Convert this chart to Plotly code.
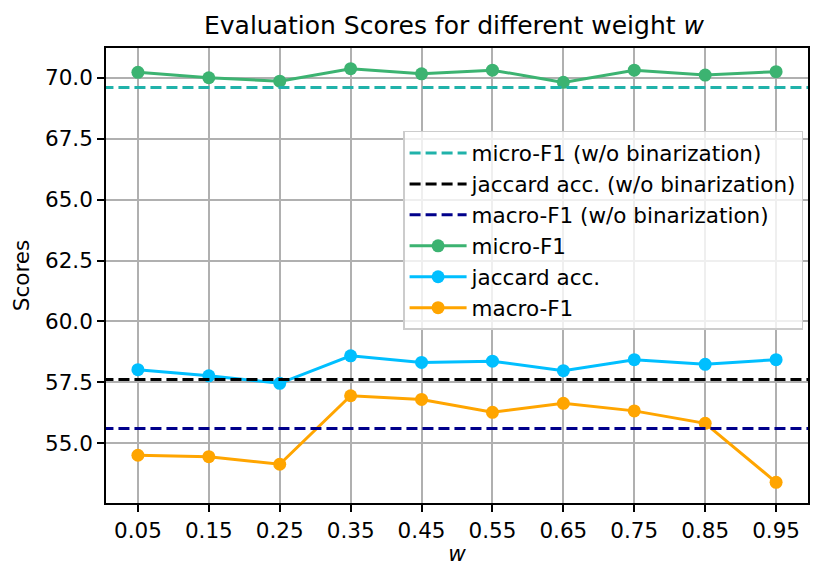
import plotly.graph_objects as go

w_labels = ["0.05", "0.15", "0.25", "0.35", "0.45", "0.55", "0.65", "0.75", "0.85", "0.95"]
micro_f1 = [70.22, 70.00, 69.86, 70.37, 70.16, 70.31, 69.81, 70.31, 70.11, 70.25]
jaccard_acc = [58.02, 57.77, 57.46, 58.59, 58.32, 58.37, 57.98, 58.43, 58.24, 58.43]
macro_f1 = [54.51, 54.45, 54.14, 56.95, 56.80, 56.27, 56.64, 56.33, 55.82, 53.40]

micro_f1_nobin = 69.60
jaccard_nobin = 57.62
macro_f1_nobin = 55.61

FONT = "DejaVu Sans"
FS = 21.5

fig = go.Figure()

baselines = [
    ("micro-F1 (w/o binarization)", micro_f1_nobin, "#20B2AA"),
    ("jaccard acc. (w/o binarization)", jaccard_nobin, "#000000"),
    ("macro-F1 (w/o binarization)", macro_f1_nobin, "#00008B"),
]
for name, val, col in baselines:
    fig.add_trace(go.Scatter(
        x=[-0.5, len(w_labels) - 0.5], y=[val, val], mode="lines", name=name,
        xaxis="x2",
        line=dict(color=col, width=3, dash="11px,5px"),
    ))

series = [
    ("micro-F1", micro_f1, "#3CB371"),
    ("jaccard acc.", jaccard_acc, "#00BFFF"),
    ("macro-F1", macro_f1, "#FFA500"),
]
for name, vals, col in series:
    fig.add_trace(go.Scatter(
        x=w_labels, y=vals, mode="lines+markers", name=name,
        line=dict(color=col, width=3),
        marker=dict(color=col, size=13),
    ))

W, H = 822, 575
L, R, T, B = 96, 22, 40, 80

fig.update_layout(
    width=W, height=H,
    margin=dict(l=L, r=R, t=T, b=B),
    paper_bgcolor="white", plot_bgcolor="white",
    font=dict(family=FONT, size=FS, color="black"),
    title=dict(text="Evaluation Scores for different weight <i>w</i>",
               x=446 / W, xanchor="center",
               y=1 - 17 / H, yanchor="middle",
               font=dict(family=FONT, size=25, color="black")),
    showlegend=True,
    legend=dict(
        x=0.993, xanchor="right", y=0.8176, yanchor="top",
        bgcolor="rgba(255,255,255,0.8)", bordercolor="#cccccc", borderwidth=1.5,
        font=dict(family=FONT, size=FS, color="black"),
        traceorder="normal", itemwidth=57,
    ),
    xaxis=dict(
        type="category", range=[-0.45, len(w_labels) - 1 + 0.45],
        showgrid=True, gridcolor="#b0b0b0", gridwidth=1.6,
        showline=True, linecolor="black", linewidth=1.6, mirror=True,
        ticks="outside", ticklen=7, tickwidth=1.6, tickcolor="black",
        title=dict(text="<i>w</i>", font=dict(family=FONT, size=FS), standoff=4),
        tickfont=dict(family=FONT, size=FS),
        zeroline=False,
    ),
    xaxis2=dict(
        overlaying="x", range=[-0.45, len(w_labels) - 1 + 0.45],
        visible=False, showgrid=False,
    ),
    yaxis=dict(
        range=[52.55, 71.22],
        tickvals=[55.0, 57.5, 60.0, 62.5, 65.0, 67.5, 70.0],
        ticktext=["55.0", "57.5", "60.0", "62.5", "65.0", "67.5", "70.0"],
        showgrid=True, gridcolor="#b0b0b0", gridwidth=1.6,
        showline=True, linecolor="black", linewidth=1.6, mirror=True,
        ticks="outside", ticklen=7, tickwidth=1.6, tickcolor="black",
        title=dict(text="Scores", font=dict(family=FONT, size=FS), standoff=10),
        tickfont=dict(family=FONT, size=FS),
        zeroline=False,
    ),
)

fig.write_html("out.html")
